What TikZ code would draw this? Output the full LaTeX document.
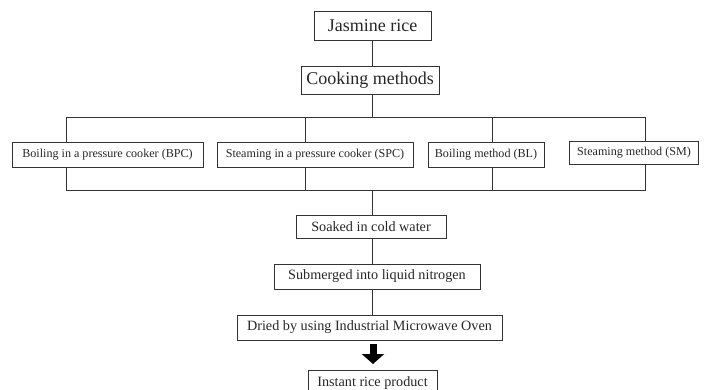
\documentclass[tikz,border=0pt]{standalone}
\usepackage{fontspec}
\setmainfont{Liberation Serif}
\usetikzlibrary{arrows.meta}
\definecolor{ln}{HTML}{333333}
\tikzset{
  box/.style={draw=ln, line width=0.9pt, inner sep=0pt, anchor=center, text=black!85},
  big/.style={box, font=\fontsize{18}{20}\selectfont},
  mid/.style={box, font=\fontsize{12.1}{14}\selectfont},
  low/.style={box, font=\fontsize{14.2}{16}\selectfont},
  conn/.style={draw=ln, line width=1pt},
}
\begin{document}
\begin{tikzpicture}[x=1pt,y=-1pt]
\useasboundingbox (0,0) rectangle (705,389);
% top
\node[big, minimum width=117pt, minimum height=29pt] (jr) at (372.5,25.5) {Jasmine rice};
\node[big, minimum width=138pt, minimum height=28pt] (cm) at (370,80) {Cooking methods};
% methods
\node[mid, minimum width=191pt, minimum height=25pt] (bpc) at (107.5,154.5) {Boiling in a pressure cooker (BPC)};
\node[mid, minimum width=196pt, minimum height=25pt] (spc) at (315,154.5) {Steaming in a pressure cooker (SPC)};
\node[mid, minimum width=116pt, minimum height=25pt] (bl) at (486,154.5) {Boiling method (BL)};
\node[mid, minimum width=129pt, minimum height=23pt] (sm) at (634,153) {Steaming method (SM)};
% process
\node[low, minimum width=150pt, minimum height=23pt] (sk) at (371,226.5) {Soaked in cold water};
\node[low, minimum width=206pt, minimum height=25pt] (sb) at (377,276.5) {Submerged into liquid nitrogen};
\node[low, minimum width=265pt, minimum height=25pt] (dr) at (369.5,327.5) {Dried by using Industrial Microwave Oven};
\node[low, minimum width=129pt, anchor=north, inner ysep=4pt, text height=12pt, text depth=12pt] (ip) at (372.5,370) {Instant rice product};
% coordinates
\coordinate (c) at (372,117);
\coordinate (tl) at (66,117);
\coordinate (tr) at (645,117);
\coordinate (bl1) at (66,190);
\coordinate (br) at (645,190);
\coordinate (x2) at (305,117);
\coordinate (x3) at (492,117);
\coordinate (y2) at (305,190);
\coordinate (y3) at (492,190);
\coordinate (cd) at (372,190);
% connectors
\draw[conn] (372,40) coordinate (ja) -- (ja|-cm.north);
\draw[conn] (c|-cm.south) -- (c);
\draw[conn] (tl|-bpc.north) -- (tl) -- (tr) -- (tr|-sm.north);
\draw[conn] (x2) -- (x2|-spc.north);
\draw[conn] (x3) -- (x3|-bl.north);
\draw[conn] (tl|-bpc.south) -- (bl1) -- (br) -- (br|-sm.south);
\draw[conn] (y2) -- (y2|-spc.south);
\draw[conn] (y3) -- (y3|-bl.south);
\draw[conn] (cd) -- (cd|-sk.north);
\draw[conn] (372,238) coordinate (s1) -- (s1|-sb.north);
\draw[conn] (372,289) coordinate (s2) -- (s2|-dr.north);
% block arrow
\coordinate (a0) at (373,344);
\coordinate (a1) at (373,364);
\draw[black, line width=7pt, -{Triangle[width=22pt,length=10pt]}] (a0) -- (a1);
\end{tikzpicture}
\end{document}
